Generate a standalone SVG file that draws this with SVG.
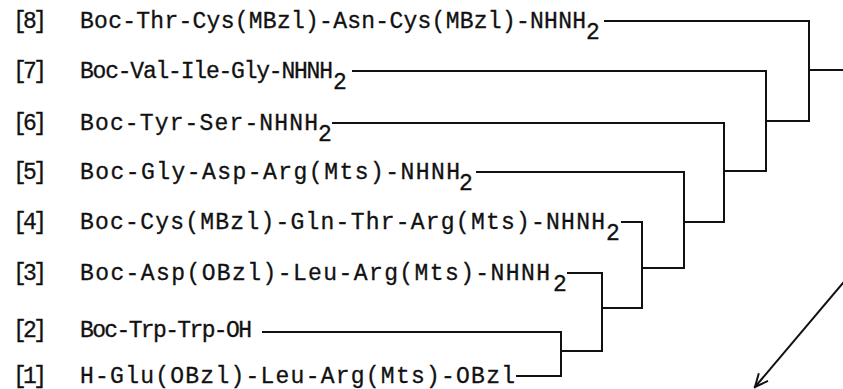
<svg xmlns="http://www.w3.org/2000/svg" width="843" height="389" viewBox="0 0 843 389">
  <style>
    .t { font-family: "Liberation Mono", "DejaVu Sans Mono", monospace; font-size: 23px; fill: #111; stroke: #111; stroke-width: 0.3; }
    .w { fill: none; stroke: #111; stroke-width: 2; stroke-linecap: square; }
  </style>
  <defs>
    <marker id="open" markerWidth="16" markerHeight="16" refX="14" refY="8" orient="auto" markerUnits="userSpaceOnUse">
      <path d="M1,2 L14,8 L1,14" fill="none" stroke="#111" stroke-width="2"/>
    </marker>
  </defs>
  <rect width="843" height="389" fill="#fff"/>

  <!-- fragments -->
  <g id="f8">
    <text class="t" x="13" y="28" textLength="34" lengthAdjust="spacing">[8]</text>
    <text class="t" x="80" y="28" textLength="506" lengthAdjust="spacing">Boc-Thr-Cys(MBzl)-Asn-Cys(MBzl)-NHNH</text>
    <text class="t" x="586" y="39">2</text>
  </g>
  <g id="f7">
    <text class="t" x="13" y="78" textLength="34" lengthAdjust="spacing">[7]</text>
    <text class="t" x="80" y="78" textLength="253" lengthAdjust="spacing">Boc-Val-Ile-Gly-NHNH</text>
    <text class="t" x="333" y="89">2</text>
  </g>
  <g id="f6">
    <text class="t" x="13" y="130" textLength="34" lengthAdjust="spacing">[6]</text>
    <text class="t" x="80" y="130" textLength="238" lengthAdjust="spacing">Boc-Tyr-Ser-NHNH</text>
    <text class="t" x="318" y="141">2</text>
  </g>
  <g id="f5">
    <text class="t" x="13" y="179" textLength="34" lengthAdjust="spacing">[5]</text>
    <text class="t" x="80" y="179" textLength="380" lengthAdjust="spacing">Boc-Gly-Asp-Arg(Mts)-NHNH</text>
    <text class="t" x="459" y="190">2</text>
  </g>
  <g id="f4">
    <text class="t" x="13" y="229" textLength="34" lengthAdjust="spacing">[4]</text>
    <text class="t" x="80" y="229" textLength="525" lengthAdjust="spacing">Boc-Cys(MBzl)-Gln-Thr-Arg(Mts)-NHNH</text>
    <text class="t" x="606" y="240">2</text>
  </g>
  <g id="f3">
    <text class="t" x="13" y="280" textLength="34" lengthAdjust="spacing">[3]</text>
    <text class="t" x="80" y="280" textLength="470" lengthAdjust="spacing">Boc-Asp(OBzl)-Leu-Arg(Mts)-NHNH</text>
    <text class="t" x="553" y="291">2</text>
  </g>
  <g id="f2">
    <text class="t" x="13" y="337" textLength="34" lengthAdjust="spacing">[2]</text>
    <text class="t" x="80" y="337" textLength="172" lengthAdjust="spacing">Boc-Trp-Trp-OH</text>
  </g>
  <g id="f1">
    <text class="t" x="13" y="383" textLength="34" lengthAdjust="spacing">[1]</text>
    <text class="t" x="80" y="383" textLength="435" lengthAdjust="spacing">H-Glu(OBzl)-Leu-Arg(Mts)-OBzl</text>
  </g>

  <!-- coupling tree -->
  <g id="connectors">
    <path class="w" d="M517,376 H561 V332 H263"/>
    <path class="w" d="M561,351 H602 V273 H568"/>
    <path class="w" d="M602,308 H642 V222 H622"/>
    <path class="w" d="M642,268 H684 V172 H477"/>
    <path class="w" d="M684,222 H724 V123 H333"/>
    <path class="w" d="M724,171 H766 V71 H353"/>
    <path class="w" d="M766,121 H809 V21 H605"/>
    <path class="w" d="M809,70 H843"/>
    <path class="w" d="M843,283 L755,387" marker-end="url(#open)"/>
  </g>
</svg>
